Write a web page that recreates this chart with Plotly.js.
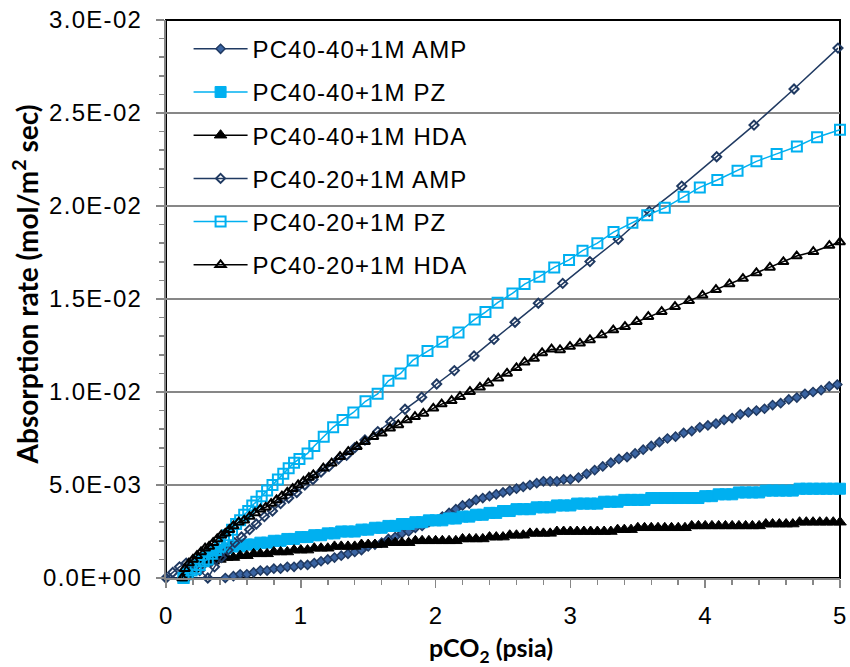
<!DOCTYPE html>
<html>
<head>
<meta charset="utf-8">
<script src="https://cdn.plot.ly/plotly-3.0.1.min.js"></script>
<style>
  html, body { margin: 0; padding: 0; background: #fff; }
  #chart { width: 850px; height: 667px; }
  .ytick text { letter-spacing: 1.3px; }
  .xtick text { letter-spacing: 0.6px; }
  .legendtext { letter-spacing: 1.1px; }
  .g-xtitle { transform: translate(-12px, 0px); }
  .g-ytitle { transform: translate(7px, -15px); }
</style>
</head>
<body>
<div id="chart"></div>
<script>
// ---------- series names ----------
const seriesNames = [
  'PC40-40+1M AMP', 'PC40-40+1M PZ', 'PC40-40+1M HDA',
  'PC40-20+1M AMP', 'PC40-20+1M PZ', 'PC40-20+1M HDA'
];

// ---------- PC40-40+1M AMP ----------
const amp40X = [0, 0.44, 0.50, 0.55, 0.60, 0.65, 0.70, 0.75, 0.80, 0.85, 0.90, 0.95, 1.00, 1.05, 1.10, 1.15, 1.20, 1.25, 1.30, 1.35, 1.40, 1.45, 1.50, 1.55, 1.60, 1.65, 1.70, 1.75, 1.80, 1.85, 1.90, 1.95, 2.00, 2.05, 2.10, 2.15, 2.20, 2.25, 2.30, 2.35, 2.40, 2.45, 2.50, 2.55, 2.60, 2.65, 2.70, 2.75, 2.80, 2.85, 2.90, 2.95, 3.00, 3.06, 3.12, 3.18, 3.24, 3.30, 3.36, 3.42, 3.48, 3.54, 3.60, 3.66, 3.72, 3.78, 3.84, 3.90, 3.96, 4.02, 4.08, 4.14, 4.20, 4.26, 4.32, 4.38, 4.44, 4.50, 4.56, 4.62, 4.68, 4.74, 4.80, 4.86, 4.92, 4.98];
const amp40Y = [0, 0, 0.0001, 0.0002, 0.0002, 0.0003, 0.0004, 0.0004, 0.0005, 0.0005, 0.0006, 0.0006, 0.0007, 0.0007, 0.0008, 0.0009, 0.0010, 0.0011, 0.0012, 0.0013, 0.0014, 0.0015, 0.0017, 0.0018, 0.0019, 0.0021, 0.0022, 0.0024, 0.0025, 0.0027, 0.0028, 0.0030, 0.0031, 0.0033, 0.0035, 0.0037, 0.0039, 0.0040, 0.0042, 0.0043, 0.0044, 0.0045, 0.0046, 0.0047, 0.0048, 0.0049, 0.0050, 0.0051, 0.0052, 0.0052, 0.0052, 0.0053, 0.0053, 0.0054, 0.0056, 0.0058, 0.0060, 0.0062, 0.0064, 0.0065, 0.0067, 0.0069, 0.0071, 0.0073, 0.0075, 0.0076, 0.0078, 0.0079, 0.0081, 0.0082, 0.0083, 0.0085, 0.0086, 0.0088, 0.0089, 0.0090, 0.0091, 0.0093, 0.0094, 0.0096, 0.0097, 0.0099, 0.0100, 0.0101, 0.0103, 0.0104];

// ---------- PC40-40+1M PZ ----------
const pz40X = [0.13, 0.16, 0.20, 0.25, 0.30, 0.35, 0.40, 0.45, 0.50, 0.55, 0.60, 0.65, 0.70, 0.75, 0.80, 0.85, 0.90, 0.95, 1.00, 1.05, 1.10, 1.15, 1.20, 1.25, 1.30, 1.35, 1.40, 1.45, 1.50, 1.55, 1.60, 1.65, 1.70, 1.75, 1.80, 1.85, 1.90, 1.95, 2.00, 2.05, 2.10, 2.15, 2.20, 2.25, 2.30, 2.35, 2.40, 2.45, 2.50, 2.55, 2.60, 2.65, 2.70, 2.75, 2.80, 2.85, 2.90, 2.95, 3.00, 3.05, 3.10, 3.15, 3.20, 3.25, 3.30, 3.35, 3.40, 3.45, 3.50, 3.55, 3.60, 3.65, 3.70, 3.75, 3.80, 3.85, 3.90, 3.95, 4.00, 4.05, 4.10, 4.15, 4.20, 4.25, 4.30, 4.35, 4.40, 4.45, 4.50, 4.55, 4.60, 4.65, 4.70, 4.75, 4.80, 4.85, 4.90, 4.95, 5.00];
const pz40Y = [0, 0.0003, 0.0006, 0.0009, 0.0011, 0.0013, 0.0015, 0.0016, 0.0017, 0.0017, 0.0018, 0.0018, 0.0019, 0.0019, 0.0020, 0.0020, 0.0021, 0.0021, 0.0022, 0.0022, 0.0023, 0.0023, 0.0024, 0.0024, 0.0025, 0.0025, 0.0025, 0.0026, 0.0026, 0.0027, 0.0027, 0.0028, 0.0028, 0.0029, 0.0029, 0.0030, 0.0030, 0.0031, 0.0031, 0.0031, 0.0032, 0.0032, 0.0033, 0.0033, 0.0034, 0.0034, 0.0035, 0.0035, 0.0036, 0.0036, 0.0037, 0.0037, 0.0037, 0.0038, 0.0038, 0.0038, 0.0039, 0.0039, 0.0039, 0.0040, 0.0040, 0.0040, 0.0040, 0.0041, 0.0041, 0.0041, 0.0042, 0.0042, 0.0042, 0.0042, 0.0043, 0.0043, 0.0043, 0.0043, 0.0043, 0.0043, 0.0043, 0.0043, 0.0044, 0.0044, 0.0045, 0.0045, 0.0045, 0.0046, 0.0046, 0.0046, 0.0046, 0.0047, 0.0047, 0.0047, 0.0047, 0.0047, 0.0048, 0.0048, 0.0048, 0.0048, 0.0048, 0.0048, 0.0048];

// ---------- PC40-40+1M HDA ----------
const hda40X = [0.13, 0.16, 0.20, 0.25, 0.30, 0.35, 0.40, 0.45, 0.50, 0.55, 0.60, 0.65, 0.70, 0.75, 0.80, 0.85, 0.90, 0.95, 1.00, 1.05, 1.10, 1.15, 1.20, 1.25, 1.30, 1.35, 1.40, 1.45, 1.50, 1.55, 1.60, 1.65, 1.70, 1.75, 1.80, 1.85, 1.90, 1.95, 2.00, 2.05, 2.10, 2.15, 2.20, 2.25, 2.30, 2.35, 2.40, 2.45, 2.50, 2.55, 2.60, 2.65, 2.70, 2.75, 2.80, 2.85, 2.90, 2.95, 3.00, 3.05, 3.10, 3.15, 3.20, 3.25, 3.30, 3.35, 3.40, 3.45, 3.50, 3.55, 3.60, 3.65, 3.70, 3.75, 3.80, 3.85, 3.90, 3.95, 4.00, 4.05, 4.10, 4.15, 4.20, 4.25, 4.30, 4.35, 4.40, 4.45, 4.50, 4.55, 4.60, 4.65, 4.70, 4.75, 4.80, 4.85, 4.90, 4.95, 5.00];
const hda40Y = [0, 0.0002, 0.0005, 0.0007, 0.0008, 0.0009, 0.0010, 0.0011, 0.0011, 0.0012, 0.0012, 0.0013, 0.0013, 0.0013, 0.0014, 0.0014, 0.0014, 0.0015, 0.0015, 0.0015, 0.0016, 0.0016, 0.0016, 0.0017, 0.0017, 0.0017, 0.0017, 0.0018, 0.0018, 0.0018, 0.0018, 0.0019, 0.0019, 0.0019, 0.0019, 0.0020, 0.0020, 0.0020, 0.0020, 0.0020, 0.0020, 0.0020, 0.0021, 0.0021, 0.0021, 0.0021, 0.0022, 0.0022, 0.0022, 0.0023, 0.0023, 0.0023, 0.0024, 0.0024, 0.0024, 0.0024, 0.0025, 0.0025, 0.0025, 0.0025, 0.0025, 0.0025, 0.0025, 0.0025, 0.0025, 0.0026, 0.0026, 0.0026, 0.0027, 0.0027, 0.0027, 0.0027, 0.0027, 0.0027, 0.0027, 0.0027, 0.0028, 0.0028, 0.0028, 0.0028, 0.0028, 0.0028, 0.0028, 0.0028, 0.0028, 0.0028, 0.0028, 0.0029, 0.0029, 0.0029, 0.0029, 0.0029, 0.0030, 0.0030, 0.0030, 0.0030, 0.0030, 0.0030, 0.0030];

// ---------- PC40-20+1M AMP ----------
const amp20X = [0, 0.05, 0.10, 0.15, 0.20, 0.25, 0.31, 0.36, 0.41, 0.46, 0.51, 0.56, 0.62, 0.67, 0.73, 0.79, 0.85, 0.91, 0.97, 1.03, 1.09, 1.15, 1.21, 1.28, 1.34, 1.40, 1.476, 1.571, 1.667, 1.773, 1.897, 2.008, 2.139, 2.285, 2.433, 2.589, 2.762, 2.943, 3.145, 3.355, 3.585, 3.826, 4.085, 4.362, 4.659, 4.985];
const amp20Y = [0, 0.0003, 0.0006, 0.0008, 0.0008, 0.0004, 0, 0.0006, 0.0011, 0.0015, 0.0019, 0.0022, 0.0026, 0.0029, 0.0033, 0.0036, 0.0040, 0.0043, 0.0046, 0.0050, 0.0053, 0.0057, 0.0060, 0.0064, 0.0066, 0.0070, 0.00742, 0.00787, 0.00840, 0.00907, 0.00972, 0.01043, 0.01115, 0.01194, 0.01283, 0.01375, 0.01477, 0.01584, 0.01701, 0.01821, 0.01971, 0.02107, 0.02265, 0.02435, 0.02629, 0.02849];

// ---------- PC40-20+1M PZ ----------
const pz20X = [0.13, 0.16, 0.19, 0.22, 0.25, 0.28, 0.31, 0.34, 0.37, 0.40, 0.43, 0.46, 0.49, 0.52, 0.55, 0.58, 0.61, 0.64, 0.67, 0.71, 0.75, 0.79, 0.83, 0.87, 0.91, 0.95, 0.99, 1.05, 1.10, 1.17, 1.24, 1.31, 1.39, 1.48, 1.57, 1.65, 1.74, 1.83, 1.94, 2.05, 2.17, 2.29, 2.37, 2.46, 2.57, 2.66, 2.77, 2.88, 2.99, 3.09, 3.20, 3.32, 3.46, 3.57, 3.70, 3.84, 3.96, 4.09, 4.24, 4.38, 4.53, 4.68, 4.83, 5.00];
const pz20Y = [0, 0.0002, 0.0004, 0.0005, 0.0007, 0.0009, 0.0010, 0.0013, 0.0015, 0.0017, 0.0020, 0.0023, 0.0026, 0.0029, 0.0031, 0.0034, 0.0036, 0.0039, 0.0041, 0.0044, 0.0047, 0.0050, 0.0053, 0.0056, 0.0059, 0.0062, 0.0064, 0.0067, 0.0071, 0.0076, 0.0081, 0.0085, 0.0089, 0.0095, 0.0099, 0.0106, 0.0110, 0.0117, 0.0122, 0.0127, 0.0132, 0.0139, 0.0143, 0.0148, 0.0153, 0.0158, 0.0162, 0.0167, 0.0171, 0.0176, 0.0180, 0.0186, 0.0191, 0.0195, 0.0199, 0.0205, 0.0210, 0.0214, 0.0219, 0.0224, 0.0228, 0.0232, 0.0237, 0.0241];

// ---------- PC40-20+1M HDA ----------
const hda20X = [0.12, 0.14, 0.17, 0.20, 0.23, 0.26, 0.29, 0.32, 0.35, 0.38, 0.41, 0.44, 0.47, 0.50, 0.54, 0.58, 0.62, 0.66, 0.70, 0.74, 0.78, 0.82, 0.86, 0.90, 0.94, 0.98, 1.02, 1.06, 1.093, 1.167, 1.229, 1.291, 1.352, 1.415, 1.476, 1.538, 1.600, 1.662, 1.723, 1.786, 1.847, 1.909, 1.983, 2.045, 2.119, 2.181, 2.255, 2.329, 2.391, 2.465, 2.53, 2.60, 2.66, 2.73, 2.79, 2.86, 2.923, 2.997, 3.071, 3.145, 3.232, 3.318, 3.405, 3.492, 3.578, 3.677, 3.776, 3.88, 3.98, 4.08, 4.18, 4.28, 4.38, 4.48, 4.58, 4.679, 4.802, 4.921, 5.00];
const hda20Y = [0, 0.0005, 0.0008, 0.0010, 0.0012, 0.0014, 0.0016, 0.0017, 0.0019, 0.0021, 0.0023, 0.0024, 0.0026, 0.0028, 0.0030, 0.0031, 0.0033, 0.0035, 0.0037, 0.0038, 0.0040, 0.0042, 0.0044, 0.0046, 0.0048, 0.0050, 0.0052, 0.0054, 0.00554, 0.00590, 0.00617, 0.00652, 0.00679, 0.00706, 0.00733, 0.00760, 0.00778, 0.00805, 0.00823, 0.00849, 0.00867, 0.00885, 0.00912, 0.00935, 0.00953, 0.00975, 0.01002, 0.01025, 0.01047, 0.01074, 0.0110, 0.0113, 0.0116, 0.0118, 0.0121, 0.0123, 0.01226, 0.01244, 0.01262, 0.01280, 0.01306, 0.01333, 0.01351, 0.01378, 0.01405, 0.01432, 0.01459, 0.0149, 0.0152, 0.0155, 0.0158, 0.0161, 0.0164, 0.0167, 0.0170, 0.01731, 0.01754, 0.01787, 0.01806];

// ---------- axis ticks ----------
const xTickVals = [0, 1, 2, 3, 4, 5];
const xTickText = ['0', '1', '2', '3', '4', '5'];
const yTickVals = [0, 0.005, 0.01, 0.015, 0.02, 0.025, 0.03];
const yTickText = ['0.0E+00', '5.0E-03', '1.0E-02', '1.5E-02', '2.0E-02', '2.5E-02', '3.0E-02'];

// ---------- styling ----------
const NAVY = '#203a62';
const NAVY_FILL = '#3b65a3';
const CYAN = '#00b0f0';
const BLACK = '#000000';
const AXIS_GRAY = '#878787';
const TXT_FONT = 'Liberation Sans, Arial, sans-serif';
const TITLE_FONT = 'Lato, Carlito, Calibri, sans-serif';

function mk(name, x, y, group, lineColor, symbol, mColor, mSize, mLine) {
  return {
    type: 'scatter', mode: 'lines+markers', name: name, x: x, y: y,
    legendgroup: group, cliponaxis: false,
    line: { color: lineColor, width: 1.5 },
    marker: { symbol: symbol, color: mColor, size: mSize,
              line: { color: lineColor, width: mLine } }
  };
}

const traces = [
  mk(seriesNames[0], amp40X, amp40Y, 'g0', NAVY, 'diamond', NAVY_FILL, 7, 1.5),
  mk(seriesNames[1], pz40X, pz40Y, 'g1', CYAN, 'square', CYAN, 11, 1),
  mk(seriesNames[2], hda40X, hda40Y, 'g2', BLACK, 'triangle-up', BLACK, 11, 1),
  mk(seriesNames[3], amp20X, amp20Y, 'g3', NAVY, 'diamond-open', NAVY, 7, 2),
  mk(seriesNames[4], pz20X, pz20Y, 'g4', CYAN, 'square-open', CYAN, 10, 2),
  mk(seriesNames[5], hda20X, hda20Y, 'g5', BLACK, 'triangle-up-open', BLACK, 9, 2)
];

const layout = {
  width: 850, height: 667,
  margin: { l: 166, r: 10, t: 20, b: 89, pad: 0 },
  paper_bgcolor: '#ffffff', plot_bgcolor: '#ffffff',
  showlegend: true,
  font: { family: TXT_FONT, color: '#000000', size: 24 },
  xaxis: {
    range: [0, 5], tickmode: 'array', tickvals: xTickVals, ticktext: xTickText,
    ticks: 'outside', ticklen: 8, tickwidth: 1.5, tickcolor: AXIS_GRAY,
    showline: true, linecolor: AXIS_GRAY, linewidth: 2,
    showgrid: false, zeroline: false, ticklabelstandoff: 7,
    tickfont: { family: TXT_FONT, size: 24, color: '#000' },
    minor: { tickmode: 'linear', tick0: 0, dtick: 0.2, ticks: 'outside', ticklen: 5, tickwidth: 1.5, tickcolor: AXIS_GRAY, showgrid: false },
    title: { text: '<b>pCO<sub>2</sub> (psia)</b>', font: { family: TITLE_FONT, size: 25, color: '#000' }, standoff: 12 }
  },
  yaxis: {
    range: [0, 0.03], tickmode: 'array', tickvals: yTickVals, ticktext: yTickText,
    ticks: 'outside', ticklen: 8, tickwidth: 1.5, tickcolor: AXIS_GRAY,
    showline: true, linecolor: AXIS_GRAY, linewidth: 2,
    showgrid: true, gridcolor: AXIS_GRAY, gridwidth: 1.5, zeroline: false,
    ticklabelstandoff: 9,
    tickfont: { family: TXT_FONT, size: 24, color: '#000' },
    minor: { tickmode: 'linear', tick0: 0, dtick: 0.001, ticks: 'outside', ticklen: 5, tickwidth: 1.5, tickcolor: AXIS_GRAY, showgrid: false },
    title: { text: '<b>Absorption rate (mol/m<sup>2</sup> sec)</b>', font: { family: TITLE_FONT, size: 28, color: '#000' }, standoff: 3 }
  },
  legend: {
    x: 0.0335, y: 0.988, xanchor: 'left', yanchor: 'top',
    bgcolor: 'rgba(0,0,0,0)', borderwidth: 0,
    font: { family: TXT_FONT, size: 24, color: '#000' },
    itemwidth: 54, tracegroupgap: 9, traceorder: 'grouped'
  },
  shapes: [
    { type: 'rect', xref: 'paper', yref: 'paper', x0: 0, x1: 1, y0: 0, y1: 1,
      line: { color: '#000000', width: 2 }, layer: 'below' }
  ]
};

Plotly.newPlot('chart', traces, layout, { displayModeBar: false, staticPlot: true });
</script>
</body>
</html>
